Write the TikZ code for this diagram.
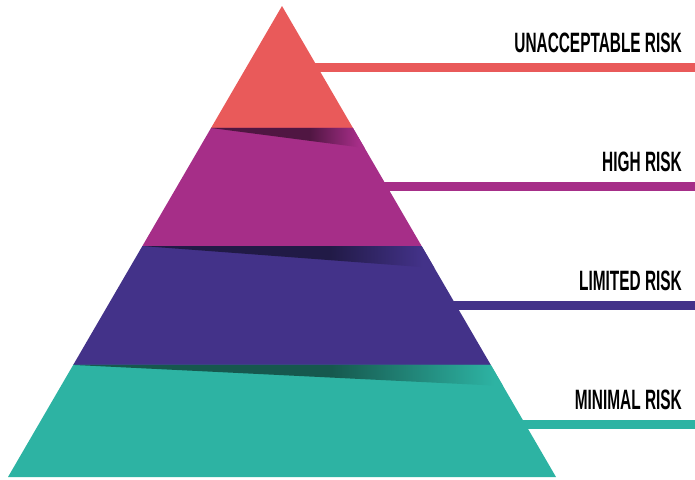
\documentclass[tikz,border=0pt]{standalone}
\usepackage{fontspec}
\newfontfamily\riskfont[FakeStretch=0.55]{Liberation Sans}
\usetikzlibrary{calc}

\definecolor{riskred}{HTML}{E95A5A}
\definecolor{riskhigh}{HTML}{A62E88}
\definecolor{risklim}{HTML}{433289}
\definecolor{riskmin}{HTML}{2DB3A3}
\definecolor{highdark}{HTML}{501642}
\definecolor{limdark}{HTML}{211A46}
\definecolor{mindark}{HTML}{16584E}

% dark wedge that fades out towards the right edge
\pgfdeclarehorizontalshading{highfade}{100bp}{color(0bp)=(highdark); color(57bp)=(highdark); color(73bp)=(riskhigh); color(100bp)=(riskhigh)}
\pgfdeclarehorizontalshading{limfade}{100bp}{color(0bp)=(limdark); color(57bp)=(limdark); color(73bp)=(risklim); color(100bp)=(risklim)}
\pgfdeclarehorizontalshading{minfade}{100bp}{color(0bp)=(mindark); color(55bp)=(mindark); color(74bp)=(riskmin); color(100bp)=(riskmin)}

\tikzset{
    bar/.style={line width=9pt},
    risklabel/.style={anchor=base east, inner sep=0pt,
        font=\riskfont\bfseries\fontsize{28}{28}\selectfont},
}

\begin{document}
\begin{tikzpicture}[x=1pt, y=-1pt]
    \useasboundingbox (0,0) rectangle (695,479);

    \coordinate (top) at (282,6);
    \coordinate (bl) at (8,477);
    \coordinate (br) at (556,477);

    % bars behind the pyramid, with their labels
    \foreach \y/\col/\txt/\i in {
        67/riskred/UNACCEPTABLE RISK/1,
        186/riskhigh/HIGH RISK/2,
        305/risklim/LIMITED RISK/3,
        424/riskmin/MINIMAL RISK/4}
    {
        \coordinate (bar\i) at (282,\y);
        \coordinate (barend\i) at (695,\y);
        \draw[bar, \col] (bar\i) -- (barend\i);
        \node[risklabel] (lbl\i) at (682,\y-15) {\txt};
    }

    % layer edges on both sides
    \foreach \t/\i in {0.259/1, 0.5096/2, 0.762/3}
    {
        \coordinate (l\i) at ($(top)!\t!(bl)$);
        \coordinate (r\i) at ($(top)!\t!(br)$);
    }

    % layers
    \fill[riskred] (top) -- (r1) -- (l1) -- cycle;
    \fill[riskhigh] (l1) -- (r1) -- (r2) -- (l2) -- cycle;
    \fill[risklim] (l2) -- (r2) -- (r3) -- (l3) -- cycle;
    \fill[riskmin] (l3) -- (r3) -- (br) -- (bl) -- cycle;

    % shadows under each step
    \foreach \t/\i/\sh in {0.3015/1/highfade, 0.5563/2/limfade, 0.8068/3/minfade}
    {
        \coordinate (s\i) at ($(top)!\t!(br)$);
        \shade[shading=\sh] (l\i) -- (r\i) -- (s\i) -- cycle;
    }
\end{tikzpicture}
\end{document}
